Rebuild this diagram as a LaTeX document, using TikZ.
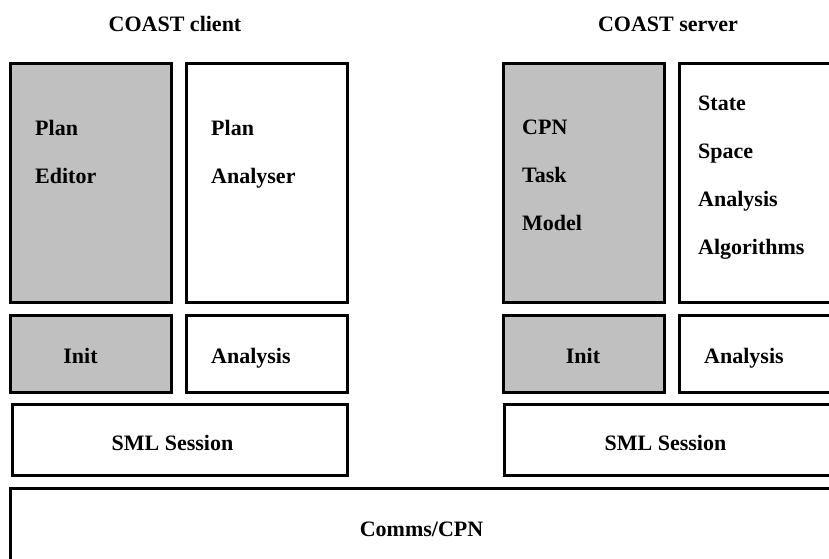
\documentclass[tikz,border=0pt]{standalone}
\usepackage{fontspec}
\setmainfont{Liberation Serif}
\definecolor{layergray}{HTML}{C0C0C0}
\tikzset{
  layer/.style={draw=black, line width=3pt, inner sep=0pt},
  shaded/.style={layer, fill=layergray},
  boxtext/.style={font=\fontsize{22}{26}\selectfont\bfseries, inner sep=0pt, anchor=base west},
  midtext/.style={boxtext, anchor=base},
}
\begin{document}
\begin{tikzpicture}[x=1pt,y=-1pt]
  \useasboundingbox (0,0) rectangle (829,558);
  \clip (0,0) rectangle (829,558);
  % titles
  \node[midtext] (client) at (175,31) {COAST client};
  \node[midtext] (server) at (668,31) {COAST server};
  % client side
  \node[shaded, minimum width=161pt, minimum height=239pt] (editor) at (91,183) {};
  \node[layer, minimum width=161pt, minimum height=239pt] (analyser) at (267,183) {};
  \node[shaded, minimum width=161pt, minimum height=77pt] (cinit) at (91,354) {};
  \node[layer, minimum width=161pt, minimum height=77pt] (canalysis) at (267,354) {};
  \node[layer, minimum width=335pt, minimum height=71pt] (csml) at (180,440) {};
  % server side
  \node[shaded, minimum width=161pt, minimum height=239pt] (cpn) at (584,183) {};
  \node[layer, minimum width=161pt, minimum height=239pt] (ssa) at (759.5,183) {};
  \node[shaded, minimum width=161pt, minimum height=77pt] (sinit) at (584,354) {};
  \node[layer, minimum width=161pt, minimum height=77pt] (sanalysis) at (759.5,354) {};
  \node[layer, minimum width=335pt, minimum height=71pt] (ssml) at (672,440) {};
  % comms
  \node[layer, minimum width=830pt, minimum height=82pt] (comms) at (425.5,529.5) {};
  % texts
  \node[boxtext] (plan1) at (35,135) {Plan};
  \node[boxtext] (editor1) at (35,183) {Editor};
  \node[boxtext] (plan2) at (211,135) {Plan};
  \node[boxtext] (analyser1) at (211,183) {Analyser};
  \node[boxtext] (cpn1) at (522,134) {CPN};
  \node[boxtext] (task1) at (522,182) {Task};
  \node[boxtext] (model1) at (522,230) {Model};
  \node[boxtext] (state1) at (698,110) {State};
  \node[boxtext] (space1) at (698,158) {Space};
  \node[boxtext] (analysis1) at (698,206) {Analysis};
  \node[boxtext] (algo1) at (698,254) {Algorithms};
  \node[midtext] (init1) at (80.5,363) {Init};
  \node[boxtext] (analysis2) at (211,363) {Analysis};
  \node[midtext] (init2) at (583,363) {Init};
  \node[boxtext] (analysis3) at (704,363) {Analysis};
  \node[midtext] (sml1) at (172.5,450) {SML Session};
  \node[midtext] (sml2) at (665.5,450) {SML Session};
  \node[midtext] (comms1) at (421.5,536) {Comms/CPN};
\end{tikzpicture}
\end{document}
